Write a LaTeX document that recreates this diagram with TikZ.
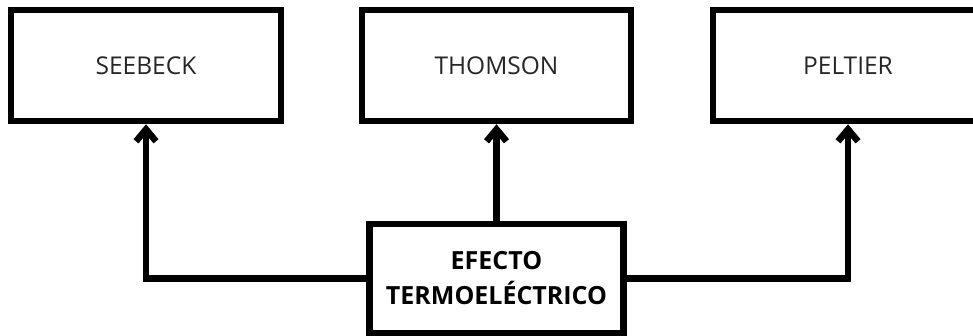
\documentclass[tikz,border=0pt]{standalone}
\usepackage{fontspec}
\setmainfont{Open Sans}
\usetikzlibrary{arrows.meta}
\tikzset{
  topbox/.style={draw=black, line width=6.5pt, minimum width=270pt, minimum height=111pt, inner sep=0pt, text=black!85, font=\fontsize{24.5}{35}\selectfont},
  ctrbox/.style={draw=black, line width=6.5pt, minimum width=254pt, minimum height=108.5pt, inner sep=0pt, align=center, font=\fontsize{25}{35}\selectfont\bfseries},
  conn/.style={draw=black, line width=6.5pt, -{Straight Barb[length=12pt,width=20pt]}}
}
\begin{document}
\begin{tikzpicture}[x=1pt,y=-1pt]
\useasboundingbox (0,0) rectangle (973,336);
\node[topbox] (seebeck) at (146,65.5) {SEEBECK};
\node[topbox, minimum width=269pt] (thomson) at (496.5,65.5) {THOMSON};
\node[topbox] (peltier) at (848,65.5) {PELTIER};
\node[ctrbox] (ctr) at (496.5,278.5) {EFECTO\\TERMOELÉCTRICO};
\draw[conn] (ctr.west) -| (seebeck.south);
\draw[conn] (ctr.north) -- (thomson.south);
\draw[conn] (ctr.east) -| (peltier.south);
\end{tikzpicture}
\end{document}
